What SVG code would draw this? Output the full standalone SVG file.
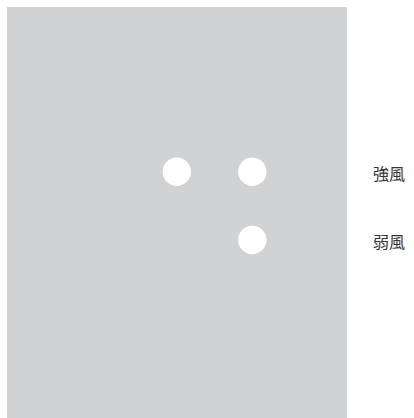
<svg xmlns="http://www.w3.org/2000/svg" width="414" height="418" viewBox="0 0 414 418">
<style>
.dot{fill:#ffffff}
.lbl{font-family:"Noto Sans CJK JP","Noto Sans CJK TC",sans-serif;font-size:16px;fill:#333333}
</style>
<rect x="0" y="0" width="414" height="418" fill="#ffffff"/>
<rect id="panel" x="7" y="7" width="340" height="411" fill="#d1d2d4"/>
<g id="dot1"><circle class="dot" cx="176.8" cy="171.8" r="14.2"/></g>
<g id="dot2"><circle class="dot" cx="252.3" cy="171.8" r="14.2"/></g>
<g id="dot3"><circle class="dot" cx="252.3" cy="240" r="14.2"/></g>
<g id="connectors"></g>
<g id="label-strong"><text class="lbl" x="373" y="179.5">強風</text></g>
<g id="label-weak"><text class="lbl" x="373" y="247.5">弱風</text></g>
</svg>
